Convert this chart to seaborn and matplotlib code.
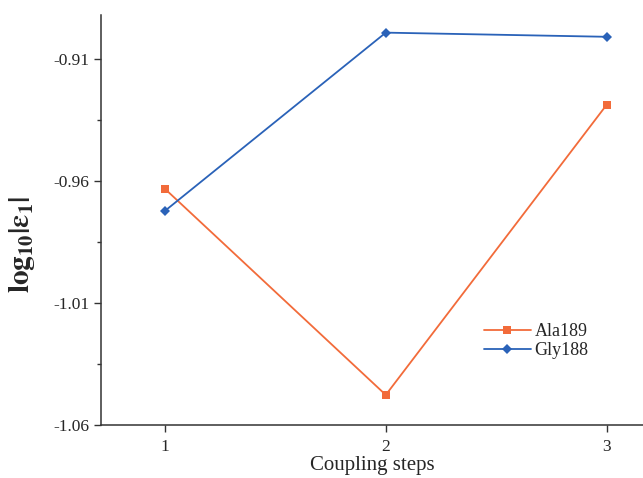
import numpy as np
import pandas as pd
import matplotlib.pyplot as plt
import seaborn as sns
from matplotlib.ticker import FixedLocator

# values
steps = [1, 2, 3]
ala189 = [-0.9633, -1.0477, -0.9289]
gly188 = [-0.9723, -0.8993, -0.9010]

df = pd.DataFrame({
    'step': steps * 2,
    'value': ala189 + gly188,
    'series': ['Ala189'] * 3 + ['Gly188'] * 3,
})

sns.set_style('ticks')
plt.rcParams['font.family'] = ['Liberation Serif', 'DejaVu Serif']
plt.rcParams['mathtext.fontset'] = 'stix'

fig = plt.figure(figsize=(6.43, 4.78), dpi=100)
ax = fig.add_axes([0.157, 0.111, 0.843, 0.858])

palette = {'Ala189': '#F26B3A', 'Gly188': '#2A62B8'}
sns.lineplot(data=df, x='step', y='value', hue='series', style='series',
             markers={'Ala189': 's', 'Gly188': 'D'}, dashes=False,
             palette=palette, linewidth=1.3, markersize=5.5,
             markeredgewidth=0, ax=ax)

ax.set_xlim(0.71, 3.165)
ax.set_ylim(-1.06, -0.892)
ax.set_xticks(steps)
ax.set_yticks([-1.06, -1.01, -0.96, -0.91])
ax.set_yticklabels(['-1.06', '-1.01', '-0.96', '-0.91'])
ax.yaxis.set_minor_locator(FixedLocator([-1.035, -0.985, -0.935]))
ax.tick_params(axis='both', which='major', direction='out', length=5, width=1,
               labelsize=12.5, color='#333333')
ax.tick_params(axis='x', which='major', pad=5)
ax.tick_params(axis='y', which='minor', direction='out', length=3, width=1,
               color='#333333')
for s in ['left', 'bottom']:
    ax.spines[s].set_color('#333333')
    ax.spines[s].set_linewidth(1.1)
sns.despine(ax=ax)

ax.set_xlabel('Coupling steps', fontsize=15, labelpad=1)
ax.set_ylabel(r'$\mathbf{log_{10}|\epsilon_1|}$', fontsize=21)
ax.yaxis.set_label_coords(-0.118, 0.44)

ax.legend(title=None, frameon=False, fontsize=13, loc='upper left',
          bbox_to_anchor=(0.69, 0.27), handlelength=2.6, borderpad=0,
          labelspacing=0.1, handletextpad=0.2)

fig.savefig('out.png', dpi=100)
